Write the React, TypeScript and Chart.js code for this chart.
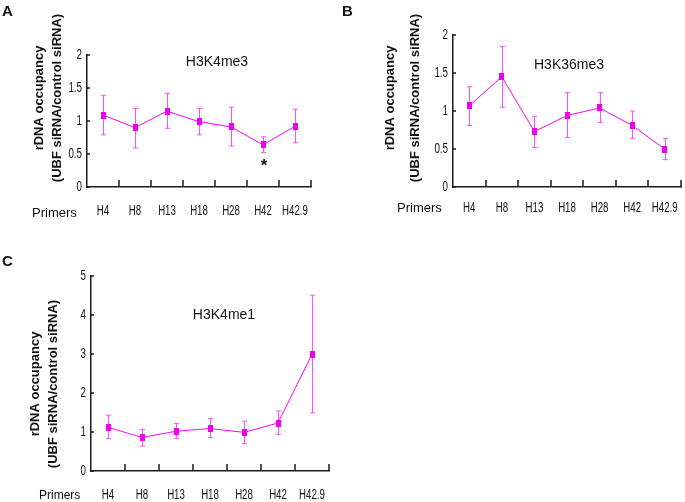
import React, { useEffect, useRef } from "react";
import { Chart, registerables } from "chart.js";

Chart.register(...registerables);

// ---------- data ----------
const primers = ["H4", "H8", "H13", "H18", "H28", "H42", "H42.9"];

const h3k4me3Values = [1.09, 0.9, 1.15, 0.99, 0.91, 0.64, 0.92];
const h3k4me3Low = [0.79, 0.59, 0.89, 0.79, 0.62, 0.52, 0.67];
const h3k4me3High = [1.39, 1.19, 1.42, 1.19, 1.21, 0.76, 1.18];

const h3k36me3Values = [1.07, 1.45, 0.73, 0.94, 1.04, 0.81, 0.5];
const h3k36me3Low = [0.81, 1.05, 0.52, 0.65, 0.85, 0.64, 0.36];
const h3k36me3High = [1.32, 1.85, 0.93, 1.24, 1.24, 1.0, 0.64];

const h3k4me1Values = [1.12, 0.86, 1.02, 1.09, 0.99, 1.23, 2.99];
const h3k4me1Low = [0.83, 0.64, 0.83, 0.86, 0.7, 0.94, 1.49];
const h3k4me1High = [1.43, 1.06, 1.22, 1.35, 1.28, 1.54, 4.51];

const yTicksHalf = [0, 0.5, 1, 1.5, 2];
const yTicksOne = [0, 1, 2, 3, 4, 5];

const yTitleLine1 = "rDNA occupancy";
const yTitleLine2 = "(UBF siRNA/control siRNA)";
const xTitle = "Primers";

// ---------- styles ----------
const SANS = "'Liberation Sans', Arial, Helvetica, sans-serif";
const LINE_COLOR = "#ff00ff";
const ERR_COLOR = "#ff4dff";
const MARK_COLOR = "#ee00ee";
const AXIS_COLOR = "#1a1a1a";

type PanelProps = {
  letter: string;
  title: string;
  values: number[];
  low: number[];
  high: number[];
  yMax: number;
  yTicks: number[];
  starIndex: number | null;
  left: number;
  top: number;
  width: number;
  height: number;
  area: { left: number; right: number; top: number; bottom: number };
  xLabelOffset: number;
  titlePos: [number, number];
  yTitleX: [number, number];
  yTitleY: number;
  primersPos: [number, number];
  primersSize: number;
};

function makeMarker(): HTMLCanvasElement {
  const c = document.createElement("canvas");
  c.width = 5;
  c.height = 7;
  const g = c.getContext("2d")!;
  g.fillStyle = MARK_COLOR;
  g.fillRect(0, 0, 5, 7);
  return c;
}

// condensed text helper
function narrowText(ctx: CanvasRenderingContext2D, s: string, x: number, y: number, sx: number, sy: number) {
  ctx.save();
  ctx.translate(x, y);
  ctx.scale(sx, sy);
  ctx.fillText(s, 0, 0);
  ctx.restore();
}

function Panel(p: PanelProps) {
  const ref = useRef<HTMLCanvasElement | null>(null);

  useEffect(() => {
    if (!ref.current) return;
    const marker = makeMarker();

    const decor = {
      id: "decor",
      beforeDatasetsDraw(chart: any) {
        const ctx = chart.ctx;
        const xs = chart.scales.x;
        const ys = chart.scales.y;
        ctx.save();
        ctx.strokeStyle = ERR_COLOR;
        ctx.lineWidth = 1;
        p.values.forEach((_, i) => {
          const x = Math.round(xs.getPixelForValue(i)) + 0.5;
          const yl = ys.getPixelForValue(p.low[i]);
          const yh = ys.getPixelForValue(p.high[i]);
          ctx.beginPath();
          ctx.moveTo(x, yl);
          ctx.lineTo(x, yh);
          ctx.moveTo(x - 2.5, yl);
          ctx.lineTo(x + 2.5, yl);
          ctx.moveTo(x - 2.5, yh);
          ctx.lineTo(x + 2.5, yh);
          ctx.stroke();
        });
        ctx.restore();
      },
      afterDraw(chart: any) {
        const ctx = chart.ctx;
        const xs = chart.scales.x;
        const ys = chart.scales.y;
        const ca = chart.chartArea;
        ctx.save();
        // axis tick marks (inward)
        ctx.strokeStyle = AXIS_COLOR;
        ctx.lineWidth = 1.5;
        ctx.beginPath();
        p.yTicks.forEach((v) => {
          const y = Math.round(ys.getPixelForValue(v));
          ctx.moveTo(ca.left, y);
          ctx.lineTo(ca.left + 3, y);
        });
        p.values.forEach((_, i) => {
          const x = Math.round(xs.getPixelForValue(i + 0.5));
          ctx.moveTo(x, ca.bottom);
          ctx.lineTo(x, ca.bottom - 7);
        });
        ctx.stroke();

        ctx.fillStyle = "#111";
        ctx.font = `14px ${SANS}`;
        // y tick labels (condensed face), placed by the y scale
        ctx.textAlign = "right";
        ctx.textBaseline = "middle";
        p.yTicks.forEach((v) => {
          narrowText(ctx, String(v), ca.left - 5, ys.getPixelForValue(v), 0.7, 1.0);
        });
        // category labels (condensed face), placed by the x scale
        ctx.textAlign = "center";
        primers.forEach((lab, i) => {
          narrowText(ctx, lab, xs.getPixelForValue(i), ca.bottom + p.xLabelOffset, 0.69, 1.0);
        });
        // panel letter
        ctx.font = `bold 15px ${SANS}`;
        ctx.textAlign = "left";
        ctx.textBaseline = "top";
        ctx.fillText(p.letter, 2, 4);
        // panel title
        ctx.font = `14px ${SANS}`;
        ctx.textAlign = "center";
        ctx.textBaseline = "middle";
        ctx.fillText(p.title, p.titlePos[0], p.titlePos[1]);
        // x title
        ctx.font = `${p.primersSize}px ${SANS}`;
        ctx.textAlign = "left";
        ctx.fillText(xTitle, p.primersPos[0], p.primersPos[1]);
        // y title (two lines, rotated)
        ctx.font = `bold 13px ${SANS}`;
        ctx.textAlign = "center";
        [yTitleLine1, yTitleLine2].forEach((t, k) => {
          ctx.save();
          ctx.translate(p.yTitleX[k], p.yTitleY);
          ctx.rotate(-Math.PI / 2);
          ctx.fillText(t, 0, 0);
          ctx.restore();
        });
        // significance star
        if (p.starIndex !== null) {
          const sx = xs.getPixelForValue(p.starIndex);
          const sy = ys.getPixelForValue(p.low[p.starIndex]);
          ctx.font = `bold 17px ${SANS}`;
          ctx.textBaseline = "top";
          ctx.fillText("*", sx + 1, sy + 5);
        }
        ctx.restore();
      },
    };

    const chart = new Chart(ref.current, {
      type: "line",
      data: {
        labels: primers,
        datasets: [
          {
            data: p.values,
            borderColor: LINE_COLOR,
            borderWidth: 1,
            pointStyle: marker as any,
            pointRadius: 3,
            pointHoverRadius: 3,
            backgroundColor: MARK_COLOR,
            tension: 0,
            clip: false as any,
          },
        ],
      },
      options: {
        responsive: false,
        animation: false,
        events: [],
        layout: {
          padding: {
            left: 0,
            top: p.area.top,
            right: p.width - p.area.right,
            bottom: 0,
          },
        },
        plugins: { legend: { display: false }, tooltip: { enabled: false }, title: { display: false } },
        scales: {
          x: {
            type: "category",
            offset: true,
            grid: { display: false, offset: true },
            border: { display: true, color: AXIS_COLOR, width: 1.5 },
            ticks: { display: false, autoSkip: false, maxRotation: 0, minRotation: 0 },
            afterFit: (s: any) => {
              s.height = p.height - p.area.bottom;
            },
          },
          y: {
            min: 0,
            max: p.yMax,
            grid: { display: false },
            border: { display: true, color: AXIS_COLOR, width: 1.5 },
            afterBuildTicks: (s: any) => {
              s.ticks = p.yTicks.map((v) => ({ value: v }));
            },
            ticks: { display: false },
            afterFit: (s: any) => {
              s.width = p.area.left;
            },
          },
        },
      },
      plugins: [decor],
    });
    return () => chart.destroy();
  }, []);

  return (
    <canvas
      ref={ref}
      width={p.width}
      height={p.height}
      style={{ position: "absolute", left: p.left, top: p.top, width: p.width, height: p.height }}
    />
  );
}

export default function App() {
  return (
    <div style={{ position: "absolute", left: 0, top: 0, width: 685, height: 502, background: "#fff", overflow: "hidden" }}>
      <Panel
        letter="A"
        title="H3K4me3"
        values={h3k4me3Values}
        low={h3k4me3Low}
        high={h3k4me3High}
        yMax={2}
        yTicks={yTicksHalf}
        starIndex={5}
        left={0}
        top={0}
        width={340}
        height={250}
        area={{ left: 87, right: 311, top: 55, bottom: 187 }}
        xLabelOffset={24}
        titlePos={[217, 62]}
        yTitleX={[39, 57]}
        yTitleY={98}
        primersPos={[32, 213]}
        primersSize={13}
      />
      <Panel
        letter="B"
        title="H3K36me3"
        values={h3k36me3Values}
        low={h3k36me3Low}
        high={h3k36me3High}
        yMax={2}
        yTicks={yTicksHalf}
        starIndex={null}
        left={340}
        top={0}
        width={345}
        height={250}
        area={{ left: 113, right: 342, top: 35, bottom: 187 }}
        xLabelOffset={21}
        titlePos={[229, 65]}
        yTitleX={[50, 75]}
        yTitleY={98}
        primersPos={[57, 208]}
        primersSize={13}
      />
      <Panel
        letter="C"
        title="H3K4me1"
        values={h3k4me1Values}
        low={h3k4me1Low}
        high={h3k4me1High}
        yMax={5}
        yTicks={yTicksOne}
        starIndex={null}
        left={0}
        top={250}
        width={360}
        height={252}
        area={{ left: 91, right: 329, top: 26, bottom: 221 }}
        xLabelOffset={24}
        titlePos={[224, 65]}
        yTitleX={[35, 53]}
        yTitleY={134}
        primersPos={[39, 246]}
        primersSize={12}
      />
    </div>
  );
}
